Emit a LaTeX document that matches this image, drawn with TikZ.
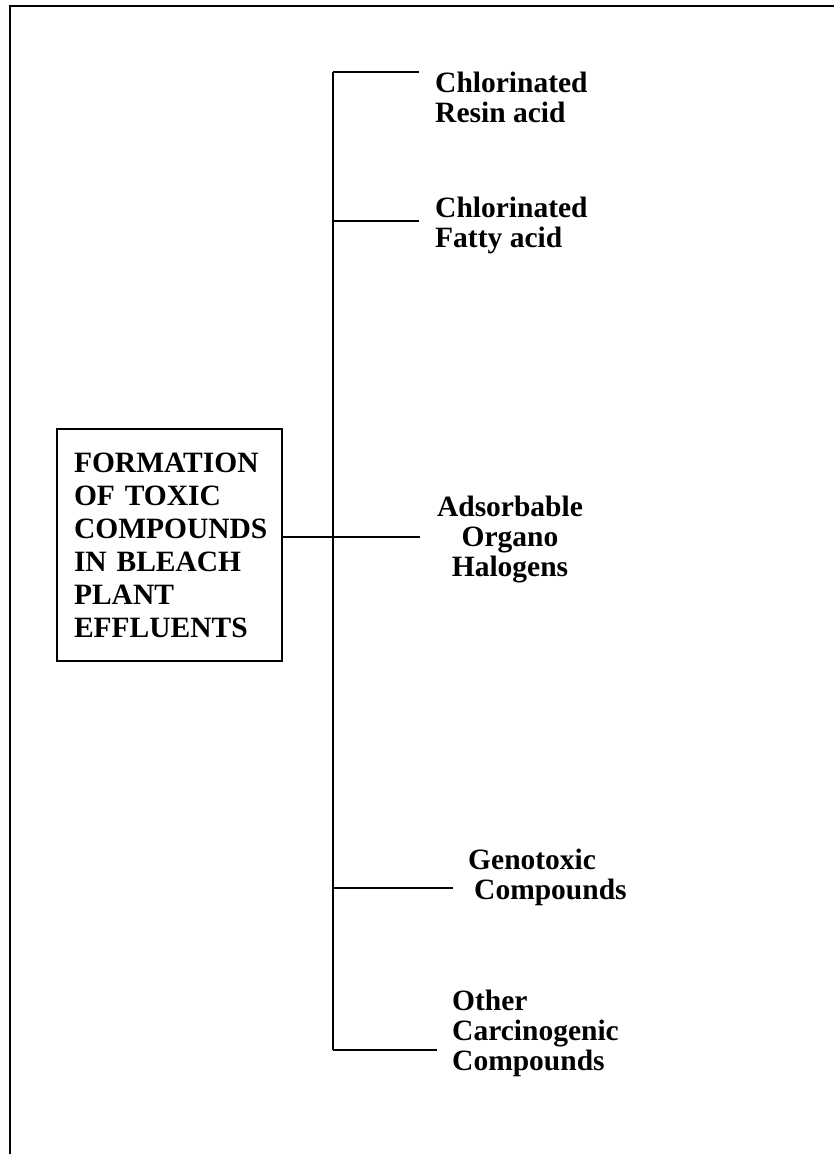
\documentclass[tikz,border=0pt]{standalone}
\usepackage{fontspec}
\setmainfont{Liberation Serif}
\usepackage{tikz}

\tikzset{
  lbl/.style={font=\bfseries\fontsize{29.5}{30}\selectfont, inner sep=0pt},
  mainbox/.style={draw, line width=1.2pt, font=\bfseries\fontsize{29.5}{33}\selectfont,
    align=left, text width=197pt, minimum width=225pt, minimum height=232pt, inner xsep=0pt},
  branch/.style={line width=1.2pt}
}

\begin{document}
\begin{tikzpicture}[x=1pt,y=-1pt]
\useasboundingbox (0,0) rectangle (834,1154);

% open frame
\draw[line width=2pt] (10,1154) -- (10,6) -- (834,6);

% main box
\node[mainbox] (box) at (169.5,545) {\hspace*{3pt}FORMATION\\\hspace*{3pt}OF TOXIC\\\hspace*{3pt}COMPOUNDS\\\hspace*{3pt}IN BLEACH\\\hspace*{3pt}PLANT\\\hspace*{3pt}EFFLUENTS};

% trunk
\coordinate (top) at (333,72);
\coordinate (bot) at (333,1050);
\draw[branch] (top) -- (bot);

% branch ends
\coordinate (e1) at (419,72);
\coordinate (e2) at (419,221);
\coordinate (e3) at (420,537);
\coordinate (e4) at (453,888);
\coordinate (e5) at (437,1050);
\coordinate (j2) at (333,221);
\coordinate (j4) at (333,888);

\draw[branch] (top) -- (e1);
\draw[branch] (j2) -- (e2);
\draw[branch] (box.east |- e3) -- (e3);
\draw[branch] (j4) -- (e4);
\draw[branch] (bot) -- (e5);

% labels
\node[lbl, anchor=west, align=left] (resin) at (435,97) {Chlorinated\\Resin acid};
\node[lbl, anchor=west, align=left] (fatty) at (435,225) {Chlorinated\\Fatty acid};
\node[lbl, align=center] (aox) at (510,540) {Adsorbable\\Organo\\Halogens};
\node[lbl, anchor=west, align=left] (geno) at (468,877) {Genotoxic\\\hspace*{6pt}Compounds};
\node[lbl, anchor=west, align=left] (other) at (452,1033) {Other\\Carcinogenic\\Compounds};
\end{tikzpicture}
\end{document}
